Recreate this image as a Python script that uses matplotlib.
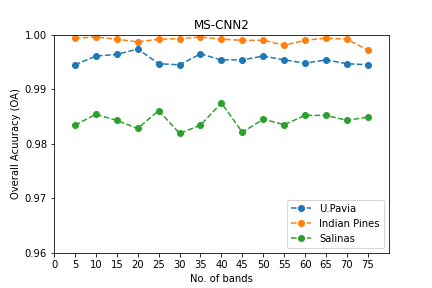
import matplotlib
matplotlib.use('Agg')
import matplotlib.pyplot as plt
import numpy as np

bands = [5, 10, 15, 20, 25, 30, 35, 40, 45, 50, 55, 60, 65, 70, 75]
upavia = [0.9945, 0.9961, 0.9964, 0.9974, 0.9947, 0.9945, 0.9965, 0.9954,
          0.9954, 0.9961, 0.9954, 0.9948, 0.9954, 0.9947, 0.9945]
indian = [0.9994, 0.9996, 0.9992, 0.9987, 0.9992, 0.9993, 0.9996, 0.9992,
          0.9990, 0.9990, 0.9981, 0.9990, 0.9994, 0.9992, 0.9972]
salinas = [0.9834, 0.9854, 0.9843, 0.9828, 0.9861, 0.9819, 0.9834, 0.9875,
           0.9821, 0.9845, 0.9835, 0.9852, 0.9852, 0.9843, 0.9849]

fig = plt.figure(figsize=(6, 4), dpi=72)
ax = fig.add_subplot(111)
fig.subplots_adjust(left=0.125, right=0.9, top=0.879, bottom=0.123)
ax.plot(bands, upavia, 'o--', label='U.Pavia')
ax.plot(bands, indian, 'o--', label='Indian Pines')
ax.plot(bands, salinas, 'o--', label='Salinas')

ax.set_xlim(0, 80)
ax.set_ylim(0.96, 1.0)
ax.set_xticks(np.arange(0, 80, 5))
ax.set_yticks([0.96, 0.97, 0.98, 0.99, 1.00])
ax.set_title('MS-CNN2')
ax.set_xlabel('No. of bands')
ax.set_ylabel('Overall Acuuracy (OA)')
ax.legend(loc='lower right')

fig.savefig('out.png', dpi=72)
